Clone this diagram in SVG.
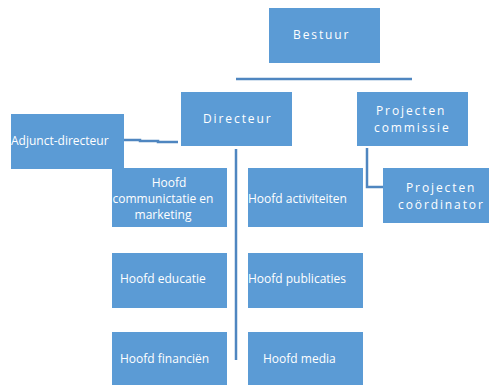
<svg xmlns="http://www.w3.org/2000/svg" width="489" height="385" viewBox="0 0 489 385">
<style>
.box{fill:#5B9BD5}
.t{fill:#fff;font-family:"Open Sans","Liberation Sans",sans-serif;font-size:12px}
.s{letter-spacing:1.9px}
.ln{stroke:#4F86C0;stroke-width:2.5;fill:none}
</style>
<rect width="489" height="385" fill="#fff"/>
<g id="connectors">
<line class="ln" x1="236" y1="79" x2="412" y2="79"/>
<polyline class="ln" points="124,140 140,140 140,141 158,141 158,142 178,142"/>
<line class="ln" x1="236" y1="149" x2="236" y2="360" stroke-width="2"/>
<polyline class="ln" points="367,148 367,187 383,187"/>
</g>
<g id="bestuur"><rect class="box" x="269" y="8" width="111" height="55"/><text class="t s" x="293" y="39">Bestuur</text></g>
<g id="directeur"><rect class="box" x="181" y="92" width="111" height="54"/><text class="t s" x="203" y="123">Directeur</text></g>
<g id="projecten-commissie"><rect class="box" x="357" y="92" width="111" height="54"/><text class="t s" x="376" y="115">Projecten</text><text class="t s" x="374" y="132">commissie</text></g>
<g id="adjunct-directeur"><rect class="box" x="11" y="114" width="113" height="55"/><text class="t" x="11" y="145">Adjunct-directeur</text></g>
<g id="projecten-coordinator"><rect class="box" x="383" y="168" width="106" height="55"/><text class="t s" x="406" y="192">Projecten</text><text class="t s" x="398" y="209">coördinator</text></g>
<g id="hoofd-communicatie"><rect class="box" x="112" y="168" width="115" height="59"/><text class="t" text-anchor="middle" x="169" y="187">Hoofd</text><text class="t" text-anchor="middle" x="163" y="203">communictatie en</text><text class="t" text-anchor="middle" x="163" y="219">marketing</text></g>
<g id="hoofd-activiteiten"><rect class="box" x="248" y="168" width="115" height="59"/><text class="t" x="248" y="203">Hoofd activiteiten</text></g>
<g id="hoofd-educatie"><rect class="box" x="112" y="253" width="115" height="55"/><text class="t" x="120" y="283">Hoofd educatie</text></g>
<g id="hoofd-publicaties"><rect class="box" x="248" y="253" width="115" height="55"/><text class="t" x="248" y="283">Hoofd publicaties</text></g>
<g id="hoofd-financien"><rect class="box" x="112" y="332" width="115" height="53"/><text class="t" x="120" y="363">Hoofd financiën</text></g>
<g id="hoofd-media"><rect class="box" x="248" y="332" width="115" height="53"/><text class="t" x="263" y="363">Hoofd media</text></g>
</svg>
